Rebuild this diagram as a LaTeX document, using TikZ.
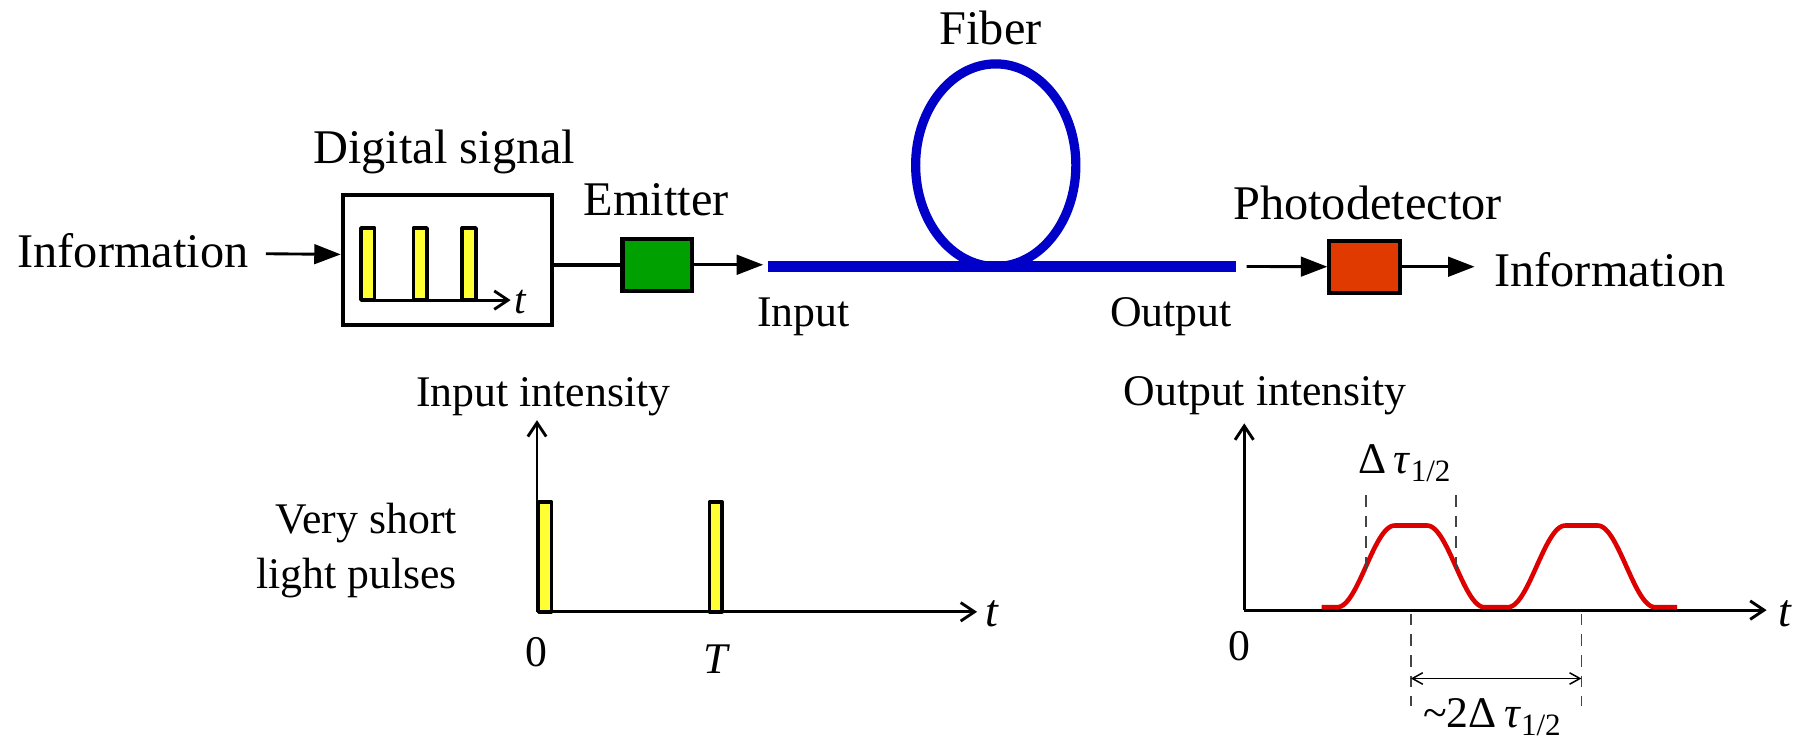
\documentclass[tikz,border=0pt]{standalone}
\usepackage{fontspec}
\setmainfont{Liberation Serif}
\usetikzlibrary{arrows.meta}
\definecolor{fibblue}{HTML}{0000C8}
\definecolor{emgreen}{HTML}{00A000}
\definecolor{pdred}{HTML}{E03A00}
\definecolor{barfill}{HTML}{FFFF33}
\definecolor{pulsered}{HTML}{DD0000}
\definecolor{guidegray}{HTML}{444444}
\begin{document}
\begin{tikzpicture}[x=1pt,y=-1pt,
  big/.style={font=\fontsize{42}{48}\selectfont, inner sep=0pt},
  small/.style={font=\fontsize{38}{44}\selectfont, inner sep=0pt},
  tlabel/.style={font=\fontsize{40}{44}\selectfont\itshape, inner sep=0pt, anchor=base west},
  boxed/.style={draw=black, line width=3.5pt, inner sep=0pt},
  fat/.style={line width=2.5pt, -{Triangle[length=23pt,width=17pt]}},
  axisline/.style={line width=2.5pt, -{Straight Barb[length=12pt,width=16pt]}},
  bar/.style={draw=black, line width=3pt, fill=barfill, line join=round},
  fiber/.style={draw=fibblue, line width=9pt},
  guide/.style={draw=guidegray, line width=1.4pt, dash pattern=on 10pt off 8pt},
  pulse/.style={draw=pulsered, line width=4pt},
  % raised-cosine pulse with a short flat top, half height at 39 from its centre
  declare function={rc(\t)=0.5*(1+cos(180*min(max((abs(\t)-14)/50,0),1)));},
]
\useasboundingbox (0,0) rectangle (1568,645);

% ---------- transmitter ----------
\node[big, anchor=base west] (infoL) at (15,232) {Information};
\node[boxed, minimum width=181.5pt, minimum height=112.5pt] (dsig) at (388.5,226) {};
\node[big, anchor=base] (dsigl) at (386,142) {Digital signal};
\foreach \bx in {313.5,359,401.5}
  \draw[bar] (\bx,260.7) rectangle ++(12,-62.7);
\draw[axisline] (313.5,260.7) -- (443.6,260.7);
\node[tlabel, font=\fontsize{36}{40}\selectfont\itshape] (dt) at (447,272) {t};
\draw[fat] ([xshift=15pt,yshift=-3pt]infoL.east) -- ([yshift=5pt]dsig.west);

\node[boxed, fill=emgreen, minimum width=60.5pt, minimum height=45pt] (emit) at (571,230) {};
\node[big, anchor=base] (emitl) at (570,187) {Emitter};
\draw[line width=3.5pt] (dsig.east |- emit.west) -- (emit.west);

% ---------- fiber ----------
\coordinate (fibL) at (667,231.5);
\coordinate (fibR) at (1074,231.5);
\draw[fat] (emit.east) -- ([xshift=-4pt]fibL |- emit.east);
\draw[fiber] (fibL) -- (fibR);
\draw[fiber, line width=8pt] (865,143.5) ellipse [x radius=69.6, y radius=88];
\node[big, anchor=base] (fibl) at (860.5,39) {Fiber};
\node[small, anchor=base west] (inl) at (657.5,284) {Input};
\node[small, anchor=base east] (outl) at (1070,284) {Output};

% ---------- receiver ----------
\node[boxed, fill=pdred, minimum width=61pt, minimum height=45.5pt] (pd) at (1185.3,231.7) {};
\draw[fat] ([xshift=9pt]fibR) -- (pd.west);
\node[big, anchor=base] (pdl) at (1188,191) {Photodetector};
\node[big, anchor=base west] (infoR) at (1298,248.5) {Information};
\draw[fat] (pd.east) -- ([xshift=-17pt]infoR.west |- pd.east);

% ---------- input intensity ----------
\coordinate (o1) at (466.5,531.5);
\draw[axisline] (o1) -- (466.5,365);
\draw[axisline] (o1) -- (848.8,531.5);
\draw[bar] (468,531.5) rectangle (479,436);
\draw[bar] (616.3,531.5) rectangle (627.3,436);
\node[small, anchor=base] (z1) at (466,579) {0};
\node[small, anchor=base, font=\fontsize{38}{44}\selectfont\itshape] (T1) at (622,585) {T};
\node[tlabel] (t1) at (856,544.5) {t};
\node[small, anchor=base east] (vs1) at (397,463.4) {Very short};
\node[small, anchor=base east] (vs2) at (397,511.2) {light pulses};
\node[small, anchor=base] (iil) at (472,353) {Input intensity};

% ---------- output intensity ----------
\coordinate (o2) at (1080.9,530);
\draw[axisline] (o2) -- (1080.9,367.8);
\draw[axisline] (o2) -- (1534.6,530);
\node[tlabel] (t2) at (1545,544.5) {t};
\node[small, anchor=base] (z2) at (1077,573.5) {0};
\node[small, anchor=base] (oil) at (1099,352) {Output intensity};
\draw[pulse] plot[domain=1148:1457, samples=180, smooth]
  (\x, {527.5 - 71*(rc(\x-1225.6) + rc(\x-1373.8))});
\draw[guide] (1186.8,430) -- (1186.8,494);
\draw[guide] (1264.9,430) -- (1264.9,494);
\draw[guide] (1225.6,533) -- (1225.6,613);
\draw[guide] (1373.8,533) -- (1373.8,613);
\coordinate (m1) at (1225.6,589.4);
\coordinate (m2) at (1373.8,589.4);
\draw[line width=1.3pt, {Straight Barb[length=9pt,width=10pt]}-{Straight Barb[length=9pt,width=10pt]}] (m1) -- (m2);
\node[small, anchor=base] (dtau) at (1220,411)
  {Δ\,\textit{τ}\raisebox{-7pt}{\fontsize{27}{30}\selectfont 1/2}};
\node[small, anchor=base] (ddtau) at (1296,632)
  {\textasciitilde2Δ\,\textit{τ}\raisebox{-7pt}{\fontsize{27}{30}\selectfont 1/2}};
\end{tikzpicture}
\end{document}
